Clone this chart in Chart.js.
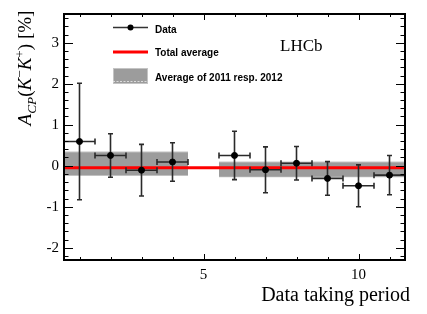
<!DOCTYPE html>
<html>
<head>
<meta charset="utf-8">
<style>
  html, body { margin: 0; padding: 0; background: #fff; }
  #box { width: 427px; height: 314px; }
</style>
</head>
<body>
<div id="box"><canvas id="myChart"></canvas></div>
<script src="https://cdn.jsdelivr.net/npm/chart.js"></script>
<script>
// data taking periods (no point at 5)
const periods = [1, 2, 3, 4, 6, 7, 8, 9, 10, 11];
const acp = [0.59, 0.25, -0.11, 0.09, 0.25, -0.10, 0.06, -0.31, -0.49, -0.23];
const acpErr = [1.42, 0.53, 0.63, 0.47, 0.59, 0.56, 0.41, 0.41, 0.51, 0.48];
const periodHalfWidth = 0.5;

const totalAverage = -0.05;

// 2011 and 2012 averages
const yearStart = [0.5, 5.5];
const yearEnd = [4.5, 11.5];
const yearAvg = [0.05, -0.09];
const yearErr = [0.285, 0.18];

const legendLabels = ['Data', 'Total average', 'Average of 2011 resp. 2012'];
const xLabelTicks = [5, 10];
const yLabelTicks = [-2, -1, 0, 1, 2, 3];

const serif = '"Liberation Serif", "Times New Roman", serif';
const sans = '"Liberation Sans", Arial, sans-serif';
const bandFill = '#9c9c9c';
const bandEdge = '#c4c4c4';
const barColor = '#2a2a2a';

const datasets = [{
    label: 'data',
    data: periods.map((p, i) => ({ x: p, y: acp[i] })),
    showLine: false,
    pointRadius: 3,
    pointBackgroundColor: '#000',
    pointBorderColor: '#000',
    order: 0
}, {
    label: 'total',
    data: [{ x: 0.5, y: totalAverage }, { x: 11.5, y: totalAverage }],
    showLine: true,
    borderColor: '#ff0000',
    borderWidth: 3,
    pointRadius: 0,
    order: 1
}];
yearAvg.forEach((v, i) => {
    datasets.push({
        label: 'hi' + i,
        data: [{ x: yearStart[i], y: v + yearErr[i] }, { x: yearEnd[i], y: v + yearErr[i] }],
        showLine: true,
        borderColor: bandEdge,
        borderWidth: 1,
        pointRadius: 0,
        backgroundColor: bandFill,
        fill: '+1',
        order: 2
    }, {
        label: 'lo' + i,
        data: [{ x: yearStart[i], y: v - yearErr[i] }, { x: yearEnd[i], y: v - yearErr[i] }],
        showLine: true,
        borderColor: bandEdge,
        borderWidth: 1,
        pointRadius: 0,
        fill: false,
        order: 2
    });
});

function drawRich(ctx, parts, size) {
    const widths = parts.map(p => {
        const s = p.sub || p.sup ? size * 0.7 : size;
        ctx.font = (p.it ? 'italic ' : '') + s + 'px ' + serif;
        return ctx.measureText(p.t).width;
    });
    const total = widths.reduce((a, b) => a + b, 0);
    let x = -total / 2;
    parts.forEach((p, i) => {
        const s = p.sub || p.sup ? size * 0.7 : size;
        ctx.font = (p.it ? 'italic ' : '') + s + 'px ' + serif;
        const dy = p.sub ? size * 0.25 : (p.sup ? -size * 0.38 : 0);
        ctx.fillText(p.t, x, dy);
        x += widths[i];
    });
}

// error bars under the points
const errorBars = {
    id: 'errorBars',
    beforeDatasetDraw(chart, args) {
        if (args.index !== 0) return;
        const ctx = chart.ctx, xs = chart.scales.x, ys = chart.scales.y;
        ctx.save();
        ctx.strokeStyle = barColor;
        ctx.lineWidth = 1.6;
        periods.forEach((p, i) => {
            const x = xs.getPixelForValue(p), y = ys.getPixelForValue(acp[i]);
            const x0 = xs.getPixelForValue(p - periodHalfWidth), x1 = xs.getPixelForValue(p + periodHalfWidth);
            const y0 = ys.getPixelForValue(acp[i] + acpErr[i]), y1 = ys.getPixelForValue(acp[i] - acpErr[i]);
            ctx.beginPath();
            ctx.moveTo(x0, y); ctx.lineTo(x1, y);
            ctx.moveTo(x0, y - 3); ctx.lineTo(x0, y + 3);
            ctx.moveTo(x1, y - 3); ctx.lineTo(x1, y + 3);
            ctx.moveTo(x, y0); ctx.lineTo(x, y1);
            ctx.moveTo(x - 2.5, y0); ctx.lineTo(x + 2.5, y0);
            ctx.moveTo(x - 2.5, y1); ctx.lineTo(x + 2.5, y1);
            ctx.stroke();
        });
        ctx.restore();
    }
};

// ROOT style frame, inner ticks, legend and titles
const decorations = {
    id: 'decorations',
    afterDraw(chart) {
        const ctx = chart.ctx, a = chart.chartArea, xs = chart.scales.x, ys = chart.scales.y;
        ctx.save();
        ctx.strokeStyle = '#000';
        ctx.lineWidth = 1;
        ctx.beginPath();
        for (let v = 1; v <= 11; v++) {
            const px = Math.round(xs.getPixelForValue(v)) + 0.5;
            const len = v % 5 === 0 ? 6 : 3;
            ctx.moveTo(px, a.bottom); ctx.lineTo(px, a.bottom - len);
            ctx.moveTo(px, a.top); ctx.lineTo(px, a.top + len);
        }
        for (let k = -11; k <= 18; k++) {
            const v = k / 5;
            const py = Math.round(ys.getPixelForValue(v)) + 0.5;
            const len = k % 5 === 0 ? 9 : 4.5;
            ctx.moveTo(a.left, py); ctx.lineTo(a.left + len, py);
            ctx.moveTo(a.right, py); ctx.lineTo(a.right - len, py);
        }
        ctx.stroke();
        ctx.lineWidth = 2;
        ctx.strokeRect(a.left, a.top, a.right - a.left, a.bottom - a.top);

        // legend
        const lx0 = 113, lx1 = 148, tx = 155;
        ctx.strokeStyle = '#333';
        ctx.lineWidth = 1.5;
        ctx.beginPath(); ctx.moveTo(lx0, 27.5); ctx.lineTo(lx1, 27.5); ctx.stroke();
        ctx.fillStyle = '#000';
        ctx.beginPath(); ctx.arc(130.5, 27.5, 3, 0, Math.PI * 2); ctx.fill();
        ctx.strokeStyle = '#ff0000';
        ctx.lineWidth = 3;
        ctx.beginPath(); ctx.moveTo(lx0, 52); ctx.lineTo(lx1, 52); ctx.stroke();
        ctx.fillStyle = bandFill;
        ctx.fillRect(lx0, 68, lx1 - lx0, 16);
        ctx.strokeStyle = bandEdge;
        ctx.lineWidth = 1;
        ctx.strokeRect(lx0 + 0.5, 68.5, lx1 - lx0 - 1, 15);
        ctx.strokeStyle = '#dcdcdc';
        ctx.setLineDash([2, 1.5]);
        ctx.beginPath(); ctx.moveTo(lx0, 81.5); ctx.lineTo(lx1, 81.5); ctx.stroke();
        ctx.setLineDash([]);
        ctx.fillStyle = '#000';
        ctx.font = 'bold 10px ' + sans;
        ctx.textBaseline = 'middle';
        ctx.fillText(legendLabels[0], tx, 30);
        ctx.fillText(legendLabels[1], tx, 53.5);
        ctx.fillText(legendLabels[2], tx, 78);

        // texts
        ctx.textBaseline = 'alphabetic';
        ctx.font = '17px ' + serif;
        ctx.fillText('LHCb', 280, 51);
        ctx.font = '20px ' + serif;
        ctx.textAlign = 'right';
        ctx.fillText('Data taking period', 410, 301);
        ctx.textAlign = 'left';
        ctx.translate(31, 68);
        ctx.rotate(-Math.PI / 2);
        drawRich(ctx, [
            { t: 'A', it: true }, { t: 'CP', it: true, sub: true },
            { t: '(' }, { t: 'K', it: true }, { t: '\u2212', sup: true },
            { t: 'K', it: true }, { t: '+', sup: true }, { t: ') [%]' }
        ], 19);
        ctx.restore();
    }
};

const config = {
    type: 'scatter',
    data: { datasets: datasets },
    options: {
        responsive: true,
        maintainAspectRatio: false,
        animation: false,
        layout: { padding: { left: 0, right: 22, top: 9, bottom: 0 } },
        plugins: { legend: { display: false }, tooltip: { enabled: false } },
        scales: {
            x: {
                type: 'linear',
                min: 0.5, max: 11.5,
                grid: { display: false, drawTicks: false },
                border: { display: false },
                afterBuildTicks: s => { s.ticks = xLabelTicks.map(v => ({ value: v })); },
                afterFit: s => { s.height = 54; },
                ticks: { color: '#000', padding: 6, maxRotation: 0, font: { family: serif, size: 15 } }
            },
            y: {
                min: -2.3, max: 3.7,
                grid: { display: false, drawTicks: false },
                border: { display: false },
                afterBuildTicks: s => { s.ticks = yLabelTicks.map(v => ({ value: v })); },
                afterFit: s => { s.width = 64; },
                ticks: { color: '#000', padding: 5, font: { family: serif, size: 15 } }
            }
        }
    },
    plugins: [errorBars, decorations]
};

const myChart = new Chart(document.getElementById('myChart'), config);
</script>
</body>
</html>
